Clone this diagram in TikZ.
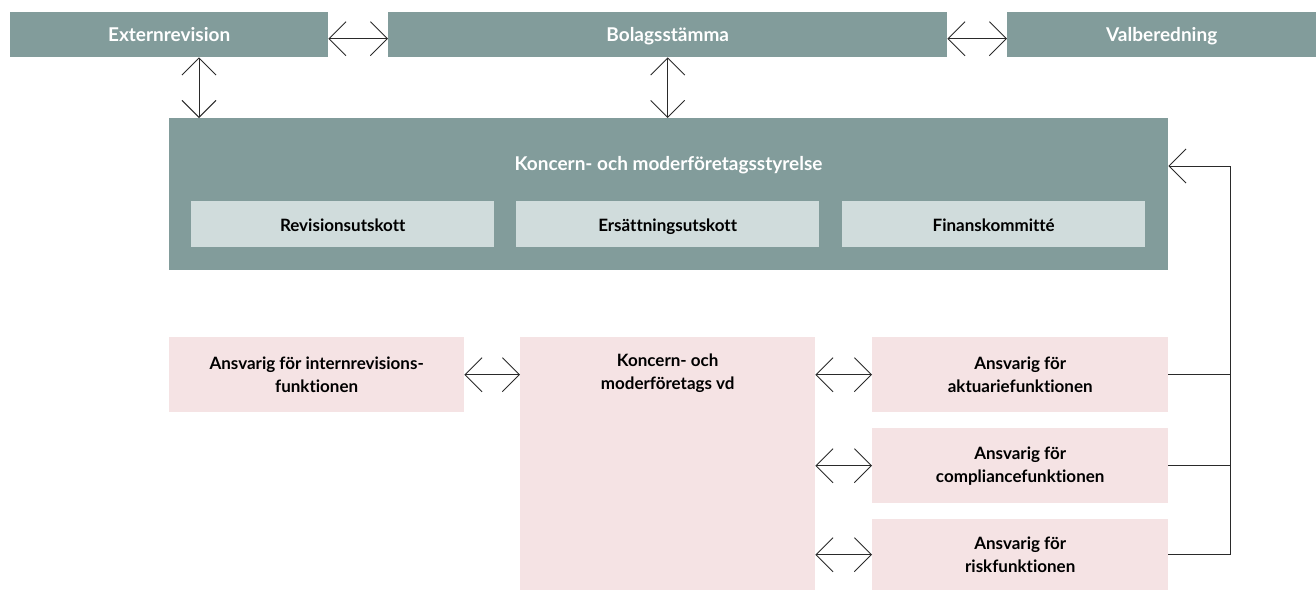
\documentclass[tikz,border=0pt]{standalone}
\usepackage{fontspec}
\setmainfont{Lato}[Ligatures={NoCommon}]
\usetikzlibrary{arrows.meta,calc}
\definecolor{boardc}{HTML}{829C9B}
\definecolor{subc}{HTML}{D0DCDC}
\definecolor{pinkc}{HTML}{F5E3E4}
\definecolor{linec}{HTML}{2A2A2A}
\begin{document}
\begin{tikzpicture}[x=1pt,y=-1pt,
  box/.style={inner sep=0pt, anchor=north west, align=center},
  topbox/.style={box, fill=boardc, text=white, text height=15.5pt, text depth=1.5pt, font=\bfseries\fontsize{19}{21}\selectfont},
  subbox/.style={box, fill=subc, text=black, text height=15.5pt, text depth=0.5pt, font=\bfseries\fontsize{17}{19}\selectfont},
  pinkbox/.style={box, fill=pinkc, text=black, font=\bfseries\fontsize{17}{23}\selectfont},
  lbl/.style={inner sep=0pt, align=center, text=black, font=\bfseries\fontsize{17}{23}\selectfont},
  barb/.tip={Straight Barb[length=17pt,width=34pt]},
  dbl/.style={draw=linec, line width=0.9pt, barb-barb},
  conn/.style={draw=linec, line width=0.9pt}
]
\useasboundingbox (0,0) rectangle (1316,590);
% top row
\node[topbox, minimum width=318pt, minimum height=45pt] (ext) at (10,12) {Externrevision};
\node[topbox, minimum width=559pt, minimum height=45pt] (bol) at (388,12) {Bolagsstämma};
\node[topbox, minimum width=309pt, minimum height=45pt] (val) at (1007,12) {Valberedning};
% board
\node[box, fill=boardc, minimum width=999pt, minimum height=152pt] (board) at (169,118) {};
\node[inner sep=0pt, text=white, text height=15.5pt, text depth=1.5pt, font=\bfseries\fontsize{19}{21}\selectfont] (btitle) at (668.5,163) {Koncern- och moderföretagsstyrelse};
\node[subbox, minimum width=303pt, minimum height=46pt] (rev) at (191,201) {Revisionsutskott};
\node[subbox, minimum width=303pt, minimum height=46pt] (ers) at (516,201) {Ersättningsutskott};
\node[subbox, minimum width=303pt, minimum height=46pt] (fin) at (842,201) {Finanskommitté};
% bottom
\node[pinkbox, minimum width=295pt, minimum height=75pt] (intr) at (169,337) {Ansvarig för internrevisions-\\funktionen};
\node[box, fill=pinkc, minimum width=295pt, minimum height=253pt] (vd) at (520,337) {};
\node[lbl] (vdt) at ([yshift=-36pt]vd.north) {Koncern- och\\moderföretags vd};
\node[pinkbox, minimum width=296pt, minimum height=75pt] (akt) at (872,337) {Ansvarig för\\aktuariefunktionen};
\node[pinkbox, minimum width=296pt, minimum height=75pt] (comp) at (872,428) {Ansvarig för\\compliancefunktionen};
\node[pinkbox, minimum width=296pt, minimum height=71pt] (risk) at (872,519) {Ansvarig för\\riskfunktionen};
% connectors
\draw[dbl] ([yshift=-4pt]ext.east) -- ([yshift=-4pt]bol.west);
\draw[dbl] ([yshift=-4pt]bol.east) -- ([yshift=-4pt]val.west);
\coordinate (c1) at ([xshift=30pt]board.north west);
\draw[dbl] (ext.south -| c1) -- (c1);
\draw[dbl] (bol.south) -- (bol.south |- board.north);
\draw[dbl] (intr.east) -- (vd.west |- intr.east);
\draw[dbl] (vd.east |- akt.west) -- (akt.west);
\draw[dbl] (vd.east |- comp.west) -- (comp.west);
\draw[dbl] (vd.east |- risk.west) -- (risk.west);
\coordinate (bj) at ([yshift=-48pt]board.north east);
\coordinate (rx) at ([xshift=62pt]akt.east);
\draw[conn, -barb] (risk.east) -| (rx |- bj) -- (bj);
\draw[conn] (akt.east) -- (rx);
\draw[conn] (comp.east) -- (comp.east -| rx);
\end{tikzpicture}
\end{document}
